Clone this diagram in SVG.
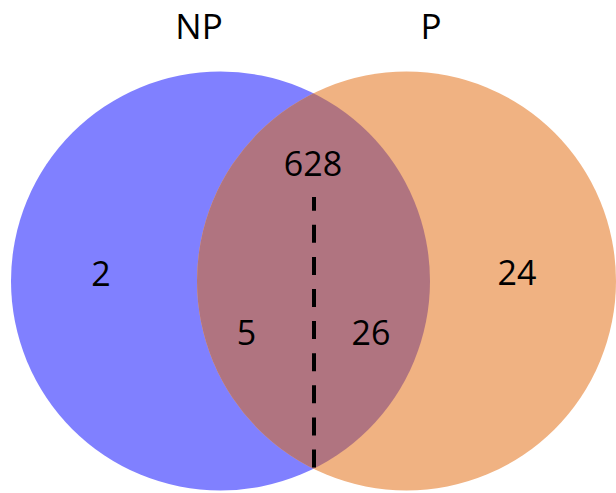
<svg xmlns="http://www.w3.org/2000/svg" width="616" height="493" viewBox="0 0 616 493">
  <style>
    .lbl { font-family: "Open Sans", "Liberation Sans", sans-serif; font-size: 35px; fill: #000; text-anchor: middle; }
    .num { font-family: "Open Sans", "Liberation Sans", sans-serif; font-size: 34px; fill: #000; text-anchor: middle; }
    .dash { stroke: #000; stroke-width: 4; stroke-dasharray: 18 14.1; stroke-dashoffset: 4.3; fill: none; }
  </style>
  <defs>
    <clipPath id="clipNP">
      <circle cx="220.5" cy="281" r="209.5"/>
    </clipPath>
  </defs>
  <rect width="616" height="493" fill="#ffffff"/>
  <g id="set-NP">
    <circle cx="220.5" cy="281" r="209.5" fill="#8080FF"/>
  </g>
  <g id="set-P">
    <circle cx="406.5" cy="281" r="209.5" fill="#F0B282"/>
  </g>
  <g id="overlap">
    <circle cx="406.5" cy="281" r="209.5" fill="#B07480" clip-path="url(#clipNP)"/>
  </g>
  <g id="connectors">
    <line class="dash" x1="314" y1="197" x2="314" y2="469"/>
  </g>
  <g id="labels">
    <text class="lbl" x="199" y="39">NP</text>
    <text class="lbl" x="431" y="39">P</text>
    <text class="num" x="313" y="176">628</text>
    <text class="num" x="101" y="286">2</text>
    <text class="num" x="517" y="285">24</text>
    <text class="num" x="246.5" y="345">5</text>
    <text class="num" x="371" y="345">26</text>
  </g>
</svg>
